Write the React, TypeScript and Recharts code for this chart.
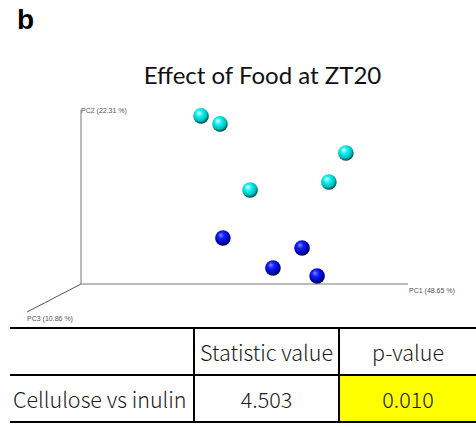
import React from 'react';
import { ScatterChart, Scatter, XAxis, YAxis, ReferenceLine, Label } from 'recharts';

// PCoA scores (projected PC1 / PC2, arbitrary units 0-100)
const cellulosePC1 = [36.7, 42.5, 81.0, 75.8, 51.7];
const cellulosePC2 = [96.6, 92.0, 75.3, 58.6, 54.0];
const inulinPC1 = [43.4, 67.6, 58.7, 72.2];
const inulinPC2 = [26.4, 20.7, 9.2, 4.6];

const axisLabels = ['PC1 (48.65 %)', 'PC2 (22.31 %)', 'PC3 (10.86 %)'];

const tableHeader = ['', 'Statistic value', 'p-value'];
const tableRow = ['Cellulose vs inulin', '4.503', '0.010'];

const cellulose = cellulosePC1.map((x, i) => ({ x, y: cellulosePC2[i] }));
const inulin = inulinPC1.map((x, i) => ({ x, y: inulinPC2[i] }));

const sphere = (id: string) => (props: any) => (
  <circle cx={props.cx} cy={props.cy} r={7.8} fill={`url(#${id})`} />
);

const axisText = (text: string, dx: number, dy: number, from: 'right' | 'top' | 'left') => (props: any) => {
  const vb = props.viewBox || { x: 0, y: 0, width: 0, height: 0 };
  let x = vb.x;
  let y = vb.y;
  if (from === 'right') x = vb.x + vb.width;
  if (from === 'left') y = vb.y + vb.height;
  return (
    <text x={x + dx} y={y + dy} fontSize={7} fill="#555" fontFamily="Liberation Sans, Arial, sans-serif">
      {text}
    </text>
  );
};

const cell: React.CSSProperties = {
  borderTop: '2.5px solid #000',
  borderBottom: '2.5px solid #000',
  height: 45,
  padding: 0,
  fontFamily: '"Noto Sans CJK JP", sans-serif',
  fontSize: 21.5,
  fontWeight: 300,
  textAlign: 'center',
  verticalAlign: 'middle',
  color: '#1a1a1a',
};

export default function App() {
  return (
    <div style={{ position: 'absolute', left: 0, top: 0, width: 476, height: 427, background: '#fff' }}>
      <div style={{ position: 'absolute', left: 17, top: 4, fontFamily: 'Liberation Sans, Arial, sans-serif', fontWeight: 'bold', fontSize: 28 }}>
        b
      </div>
      <div style={{ position: 'absolute', left: 0, width: 525, top: 60, textAlign: 'center', fontFamily: 'Lato, sans-serif', fontSize: 24, color: '#111' }}>
        Effect of Food at ZT20
      </div>
      <div style={{ position: 'absolute', left: 0, top: 0 }}>
        <ScatterChart width={476} height={330} margin={{ top: 110, right: 68, bottom: 46, left: 81 }}>
          <defs>
            <radialGradient id="cyanBall" cx="45%" cy="40%" r="60%" fx="35%" fy="30%">
              <stop offset="0%" stopColor="#eaffff" />
              <stop offset="35%" stopColor="#10f4f4" />
              <stop offset="75%" stopColor="#00bcbc" />
              <stop offset="100%" stopColor="#004040" />
            </radialGradient>
            <radialGradient id="blueBall" cx="45%" cy="40%" r="60%" fx="35%" fy="30%">
              <stop offset="0%" stopColor="#8a8aff" />
              <stop offset="35%" stopColor="#1020f8" />
              <stop offset="75%" stopColor="#0000b8" />
              <stop offset="100%" stopColor="#000038" />
            </radialGradient>
          </defs>
          <XAxis type="number" dataKey="x" domain={[0, 100]} hide />
          <YAxis type="number" dataKey="y" domain={[0, 100]} hide />
          <ReferenceLine segment={[{ x: 0, y: 0 }, { x: 100, y: 0 }]} stroke="#777" ifOverflow="visible">
            <Label content={axisText(axisLabels[0], 1, 9, 'right')} />
          </ReferenceLine>
          <ReferenceLine segment={[{ x: 0, y: 0 }, { x: 0, y: 100 }]} stroke="#777" ifOverflow="visible">
            <Label content={axisText(axisLabels[1], 0, 3, 'top')} />
          </ReferenceLine>
          <ReferenceLine segment={[{ x: 0, y: 0 }, { x: -16.5, y: -16.1 }]} stroke="#555" ifOverflow="visible">
            <Label content={axisText(axisLabels[2], 0, 9, 'left')} />
          </ReferenceLine>
          <Scatter data={cellulose} shape={sphere('cyanBall')} isAnimationActive={false} />
          <Scatter data={inulin} shape={sphere('blueBall')} isAnimationActive={false} />
        </ScatterChart>
      </div>
      <table style={{ position: 'absolute', left: 10, top: 327, width: 466, borderCollapse: 'collapse', tableLayout: 'fixed' }}>
        <colgroup>
          <col style={{ width: 184 }} />
          <col style={{ width: 145 }} />
          <col style={{ width: 137 }} />
        </colgroup>
        <tbody>
          <tr>
            {tableHeader.map((t, i) => (
              <td key={i} style={{ ...cell, borderLeft: i > 0 ? '2px solid #000' : 'none' }}>{t}</td>
            ))}
          </tr>
          <tr>
            {tableRow.map((t, i) => (
              <td
                key={i}
                style={{
                  ...cell,
                  borderLeft: i > 0 ? '2px solid #000' : 'none',
                  textAlign: i === 0 ? 'left' : 'center',
                  paddingLeft: i === 0 ? 3 : 0,
                  whiteSpace: 'nowrap',
                  overflow: 'visible',
                  background: i === 2 ? '#ffff00' : 'transparent',
                }}
              >
                {t}
              </td>
            ))}
          </tr>
        </tbody>
      </table>
    </div>
  );
}
